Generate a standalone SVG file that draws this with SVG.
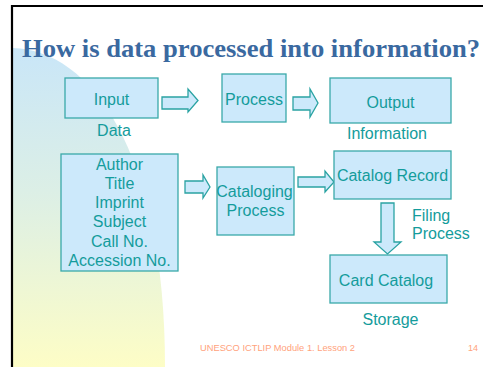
<svg xmlns="http://www.w3.org/2000/svg" width="483" height="367" viewBox="0 0 483 367">
<defs>
<linearGradient id="bg" x1="0" y1="0" x2="0" y2="1">
<stop offset="0" stop-color="#c9e6f8"/>
<stop offset="0.45" stop-color="#dcefe6"/>
<stop offset="1" stop-color="#fdfdc6"/>
</linearGradient>
<style>
.box{fill:#cce9fb;stroke:#3aa9a9;stroke-width:1.3}
.arr{fill:#cce9fb;stroke:#2aa3a3;stroke-width:1.3;stroke-linejoin:miter}
.t{font-family:"Liberation Sans",Arial,sans-serif;font-size:16px;fill:#149c9c;text-anchor:middle}
.l{text-anchor:start}
.foot{font-family:"Liberation Sans",Arial,sans-serif;font-size:9px;fill:#ffa27c}
</style>
</defs>
<rect x="0" y="0" width="483" height="367" fill="#ffffff"/>
<path d="M13,48 C90,50 165,150 165,367 L13,367 Z" fill="url(#bg)"/>
<path d="M12,367 L12,6 L483,6" fill="none" stroke="#000" stroke-width="2.2"/>
<text x="22" y="57" font-family="'Liberation Serif','Times New Roman',serif" font-weight="bold" font-size="26" fill="#3a69a0" textLength="458" lengthAdjust="spacingAndGlyphs">How is data processed into information?</text>

<g id="connectors">
<path class="arr" d="M162,97 L188,97 L188,89 L198,100.5 L188,112 L188,109 L162,109 Z"/>
<path class="arr" d="M293,97 L310,97 L310,89 L318,103 L310,117 L310,110 L293,110 Z"/>
<path class="arr" d="M185,181 L203,181 L203,175 L210,187 L203,198 L203,193 L185,193 Z"/>
<path class="arr" d="M298,177 L325,177 L325,171 L334,182 L325,192 L325,187 L298,187 Z"/>
<path class="arr" d="M381,203 L394,203 L394,242 L401,242 L387.5,254 L374,242 L381,242 Z"/>
</g>

<g id="input"><rect class="box" x="65" y="78" width="93" height="40"/><text class="t" x="111.5" y="105">Input</text></g>
<g id="process"><rect class="box" x="222" y="74" width="64" height="48"/><text class="t" x="254" y="105">Process</text></g>
<g id="output"><rect class="box" x="330" y="78" width="121" height="45"/><text class="t" x="390.5" y="108">Output</text></g>
<g id="data-label"><text class="t" x="114" y="136">Data</text></g>
<g id="information-label"><text class="t" x="387" y="139">Information</text></g>

<g id="fields"><rect class="box" x="61" y="154" width="117" height="117"/>
<text class="t" x="119.5" y="170">Author</text>
<text class="t" x="119.5" y="189">Title</text>
<text class="t" x="119.5" y="208">Imprint</text>
<text class="t" x="119.5" y="227">Subject</text>
<text class="t" x="119.5" y="247">Call No.</text>
<text class="t" x="119.5" y="266">Accession No.</text>
</g>
<g id="cataloging"><rect class="box" x="217" y="167" width="77" height="68"/>
<text class="t" x="254.5" y="197">Cataloging</text>
<text class="t" x="255.5" y="216">Process</text>
</g>
<g id="catalog-record"><rect class="box" x="334" y="151" width="117" height="48"/><text class="t" x="392.5" y="181">Catalog Record</text></g>
<g id="filing-label"><text class="t l" x="412" y="221">Filing</text><text class="t l" x="412" y="239">Process</text></g>
<g id="card-catalog"><rect class="box" x="330" y="255" width="117" height="48"/><text class="t" x="386" y="286">Card Catalog</text></g>
<g id="storage-label"><text class="t" x="390.5" y="325">Storage</text></g>

<text class="foot" x="200" y="351" textLength="155" lengthAdjust="spacingAndGlyphs">UNESCO ICTLIP Module 1. Lesson 2</text>
<text class="foot" x="468" y="351">14</text>
</svg>
